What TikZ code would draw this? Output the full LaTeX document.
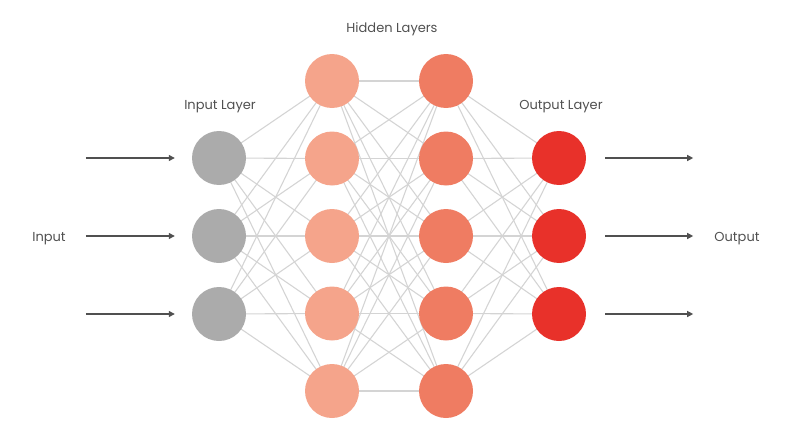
\documentclass[tikz,border=0pt]{standalone}
\usepackage{fontspec}
\setmainfont{Poppins}
\usetikzlibrary{arrows.meta,backgrounds}

\definecolor{ingray}{HTML}{ABABAB}
\definecolor{hidlight}{HTML}{F5A48B}
\definecolor{hiddark}{HTML}{EF7C62}
\definecolor{outred}{HTML}{E8312A}
\definecolor{linkgray}{HTML}{D4D4D4}
\definecolor{textgray}{HTML}{505050}

\begin{document}
\begin{tikzpicture}[x=1pt,y=-1pt,
  neuron/.style={circle,minimum size=54pt,inner sep=0pt},
  link/.style={draw=linkgray,line width=1.1pt},
  feed/.style={draw=textgray,line width=1.2pt,-{Triangle[length=6pt,width=6pt]}},
  lbl/.style={text=textgray,font=\fontsize{13}{15}\selectfont}]
\useasboundingbox (0,0) rectangle (800,436);
\foreach \i/\y in {1/158,2/236,3/314} {
  \node[neuron,fill=ingray] (in\i) at (219,\y) {};
  \node[neuron,fill=outred] (out\i) at (559,\y) {};
}
\foreach \i/\y in {1/81,2/158.5,3/236,4/313.5,5/391} {
  \node[neuron,fill=hidlight] (ha\i) at (332,\y) {};
  \node[neuron,fill=hiddark] (hb\i) at (446,\y) {};
}
% connections behind the neurons
\begin{pgfonlayer}{background}
\foreach \j in {1,...,5} {
  \foreach \i in {1,2,3} {
    \draw[link] (in\i.center) -- (ha\j.center);
    \draw[link] (hb\j.center) -- (out\i.center);
  }
  \foreach \k in {1,...,5}
    \draw[link] (ha\j.center) -- (hb\k.center);
}
\end{pgfonlayer}
% input and output arrows
\foreach \i in {1,2,3} {
  \coordinate (src\i) at ([xshift=-106pt]in\i.west);
  \coordinate (dst\i) at ([xshift=107pt]out\i.east);
  \draw[feed] (src\i) -- ([xshift=-17pt]in\i.west);
  \draw[feed] ([xshift=19pt]out\i.east) -- (dst\i);
}
\node[lbl] (inlabel) at (49,238.5) {Input};
\node[lbl] (outlabel) at (737,238.5) {Output};
\node[lbl] (inlayer) at (220,106.5) {Input Layer};
\node[lbl] (hidlayers) at (392,29.5) {Hidden Layers};
\node[lbl] (outlayer) at (561,106.5) {Output Layer};
\end{tikzpicture}
\end{document}
